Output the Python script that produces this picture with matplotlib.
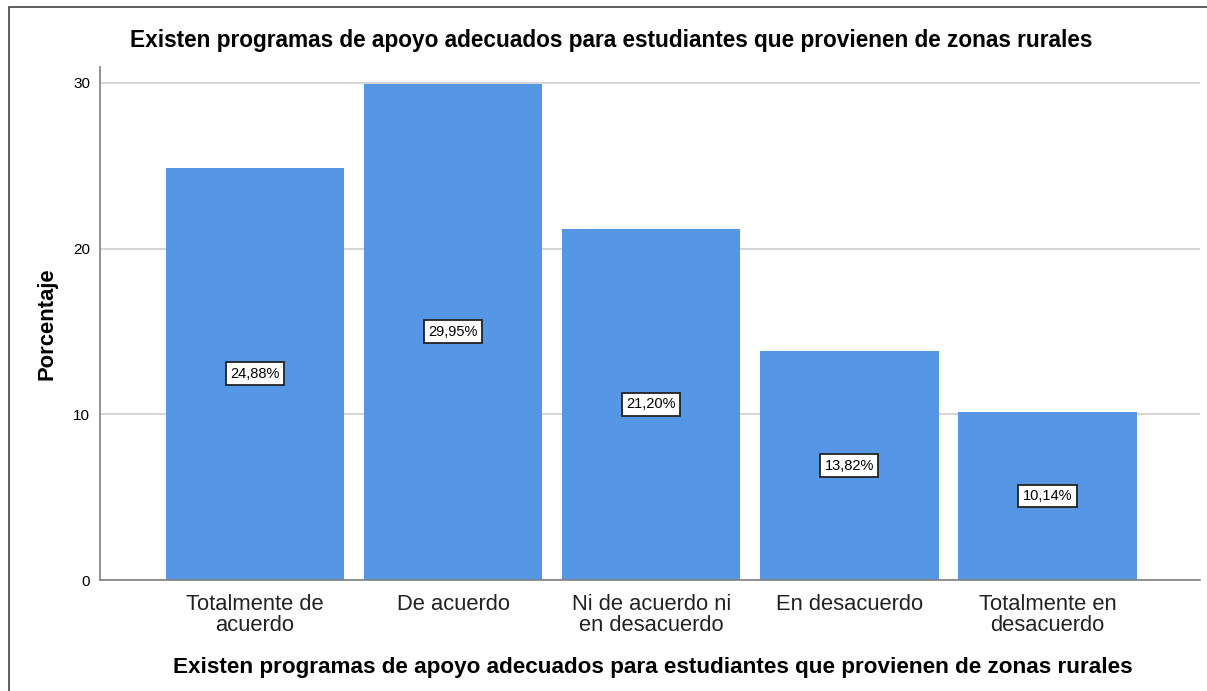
import matplotlib.pyplot as plt
from matplotlib.patches import Rectangle

categorias = ['Totalmente de\nacuerdo', 'De acuerdo', 'Ni de acuerdo ni\nen desacuerdo',
              'En desacuerdo', 'Totalmente en\ndesacuerdo']
porcentajes = [24.88, 29.95, 21.20, 13.82, 10.14]
titulo = 'Existen programas de apoyo adecuados para estudiantes que provienen de zonas rurales'

plt.rcParams['font.family'] = ['Liberation Sans', 'DejaVu Sans']

fig = plt.figure(figsize=(12.07, 6.91), dpi=100)
W, H = 1207, 691
# axes box in pixels: left 100, right 1200, top 67, bottom 580
ax = fig.add_axes([100 / W, 1 - 580 / H, 1100 / W, (580 - 67) / H])

x = list(range(len(categorias)))
ax.bar(x, porcentajes, width=0.9, color='#5596e5', zorder=2)
for xi, v in zip(x, porcentajes):
    ax.text(xi, v / 2, f'{v:.2f}%'.replace('.', ','), ha='center', va='center',
            fontsize=10.5, zorder=3,
            bbox=dict(boxstyle='square,pad=0.3', fc='white', ec='#222222', lw=1.3))

ax.set_xlim(-0.783, 4.77)
ax.set_ylim(0, 30.96)
ax.set_yticks([0, 10, 20, 30])
ax.set_xticks(x)
ax.set_xticklabels(categorias, fontsize=15.8, color='#222222', linespacing=1.0)
ax.tick_params(axis='y', length=0, pad=7, labelsize=11)
ax.tick_params(axis='x', length=0, pad=10)
ax.yaxis.grid(True, color='#d6d6d6', lw=1.5, zorder=0)
ax.set_axisbelow(True)
for s in ['top', 'right']:
    ax.spines[s].set_visible(False)
for s in ['left', 'bottom']:
    ax.spines[s].set_color('#808080')
    ax.spines[s].set_linewidth(1.2)

ax.set_ylabel('Porcentaje', fontsize=15.8, fontweight='bold', labelpad=11.5)
fig.text(0.5 * (125 + 1097) / W, 1 - 40 / H, titulo, ha='center', va='center',
         fontsize=16.3, fontweight='bold')
fig.text(0.5 * (168 + 1137) / W, 1 - 667 / H, titulo, ha='center', va='center',
         fontsize=16.2, fontweight='bold')

# outer frame
fig.patches.append(Rectangle((9 / W, -0.1), 1.2, 1 - 7 / H + 0.1, transform=fig.transFigure,
                             fill=False, ec='#444444', lw=1.2, clip_on=False))

fig.savefig('out.png', dpi=100)
